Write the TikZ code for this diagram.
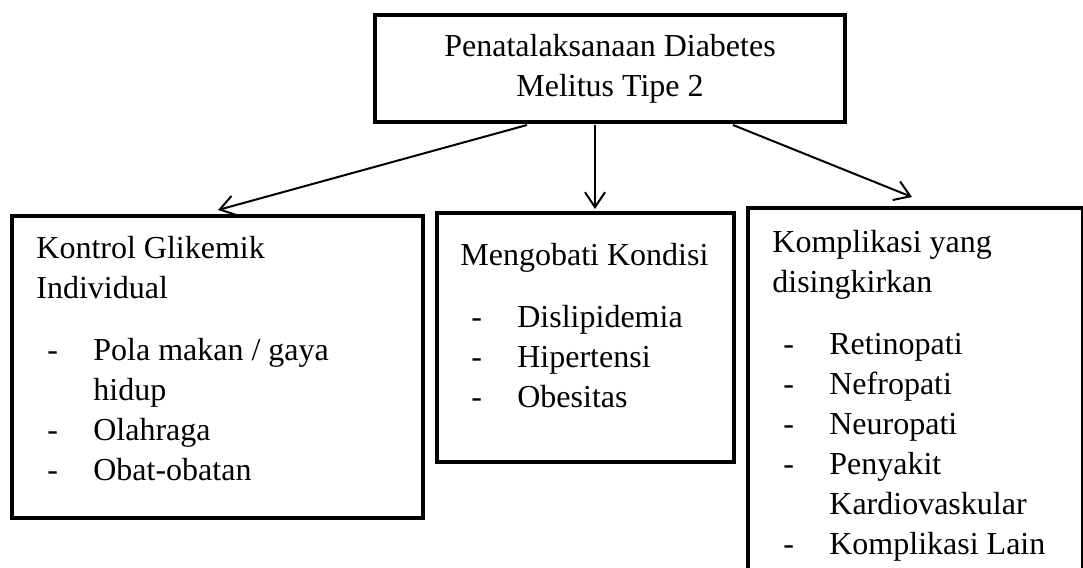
\documentclass[tikz,border=0pt]{standalone}
\usepackage{fontspec}
\setmainfont{Liberation Serif}
\usepackage{tikz}
\usetikzlibrary{
  arrows.meta,
  positioning
}
\setlength{\parindent}{0pt}
\newcommand{\dmfont}{\fontsize{16}{20}\selectfont}
\newcommand{\dmitem}[1]{\strut\makebox[28.5pt][l]{\hspace*{5.5pt}-}#1}
\newcommand{\dmcont}[1]{\strut\hspace*{28.5pt}#1}
\tikzset{
  dmbox/.style={draw, line width=2.2pt, inner sep=0pt, outer sep=0pt},
  dmroot/.style={dmbox, align=center, font=\dmfont},
  dmpanel/.style={dmbox, anchor=north west},
  dmtext/.style={anchor=north west, inner sep=0pt, text width=190pt, align=flush left, font=\dmfont},
  dmflow/.style={-{Straight Barb[length=7.5pt, width=10pt]}, line width=1pt}
}

\begin{document}
\begin{tikzpicture}[x=0.5pt, y=-0.5pt]
  \useasboundingbox (0,0) rectangle (1083,568);
  \node[dmroot, minimum width=235pt, minimum height=53.5pt] (root) at (610,68.5)
    {\strut Penatalaksanaan Diabetes\\\strut Melitus Tipe 2};
  \node[dmpanel, minimum width=205.5pt, minimum height=151pt] (kontrol) at (12,216) {};
  \node[dmpanel, minimum width=148.5pt, minimum height=124.5pt] (obati) at (437,213) {};
  \node[dmpanel, minimum width=167.5pt, minimum height=200pt] (komplikasi) at (748,208) {};
  \node[dmtext] (kontroltxt) at (36,230)
    {\strut Kontrol Glikemik\\\strut Individual\\[11pt]
     \dmitem{Pola makan / gaya}\\\dmcont{hidup}\\
     \dmitem{Olahraga}\\\dmitem{Obat-obatan}};
  \node[dmtext] (obatitxt) at (460,237)
    {\strut Mengobati Kondisi\\[11pt]
     \dmitem{Dislipidemia}\\\dmitem{Hipertensi}\\\dmitem{Obesitas}};
  \node[dmtext] (komplikasitxt) at (772,224)
    {\strut Komplikasi yang\\\strut disingkirkan\\[11pt]
     \dmitem{Retinopati}\\\dmitem{Nefropati}\\\dmitem{Neuropati}\\
     \dmitem{Penyakit}\\\dmcont{Kardiovaskular}\\\dmitem{Komplikasi Lain}};
  \draw[dmflow] ([xshift=76pt, yshift=-1.5pt]root.south west) -- ([xshift=103pt, yshift=3pt]kontrol.north west);
  \draw[dmflow] ([xshift=110pt, yshift=-1.5pt]root.south west) -- ([xshift=79pt, yshift=2pt]obati.north west);
  \draw[dmflow] ([xshift=179pt, yshift=-1.5pt]root.south west) -- ([xshift=82pt, yshift=5.5pt]komplikasi.north west);
\end{tikzpicture}
\end{document}
